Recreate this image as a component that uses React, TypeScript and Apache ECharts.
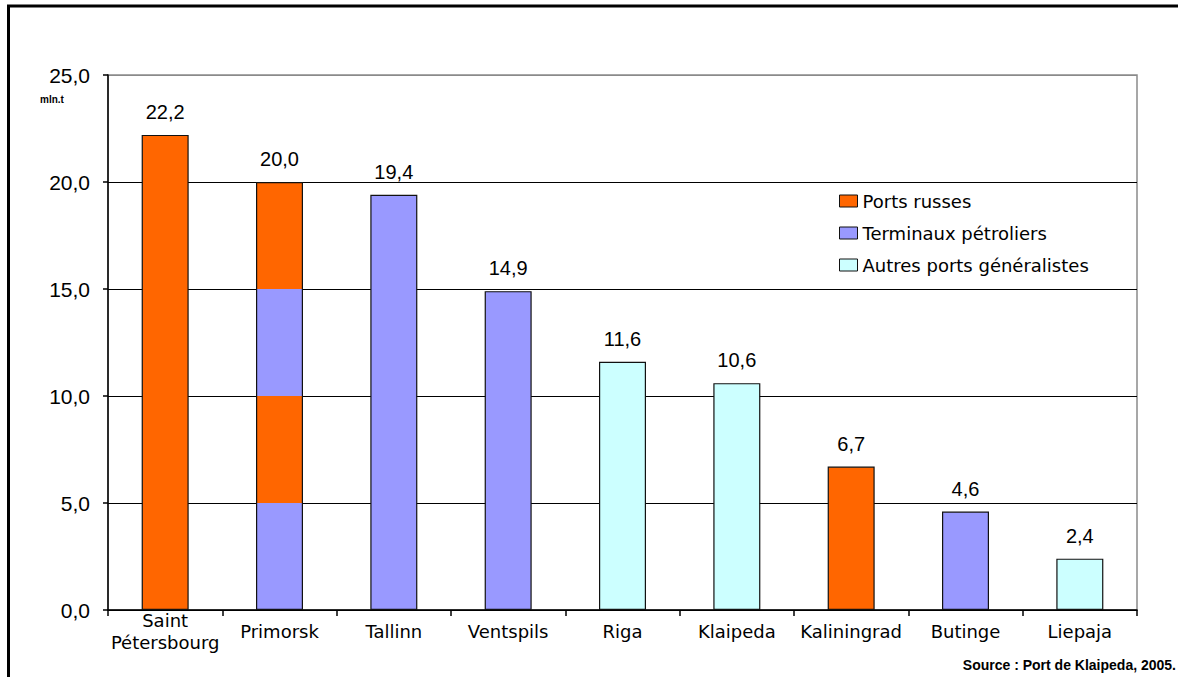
import React, { useEffect, useRef } from "react";
import * as echarts from "echarts";

const categories = ["Saint\nPétersbourg", "Primorsk", "Tallinn", "Ventspils", "Riga", "Klaipeda", "Kaliningrad", "Butinge", "Liepaja"];
const totals = [22.2, 20.0, 19.4, 14.9, 11.6, 10.6, 6.7, 4.6, 2.4];
const portTypes = ["russe", "mixte", "petrolier", "petrolier", "autre", "autre", "russe", "petrolier", "autre"];
// Primorsk striped bar: band tops, drawn from the highest down
const primorskBandTops = [20, 15, 10, 5];
const primorskBandTypes = ["russe", "petrolier", "russe", "petrolier"];
const legendTypes = ["russe", "petrolier", "autre"];
const legendNames: Record<string, string> = {
  russe: "Ports russes",
  petrolier: "Terminaux pétroliers",
  autre: "Autres ports généralistes",
};
const typeColors: Record<string, string> = {
  russe: "#FF6600",
  petrolier: "#9999FF",
  autre: "#CCFFFF",
};
const yMin = 0;
const yMax = 25;
const yStep = 5;
const unitLabel = "mln.t";
const sourceText = "Source : Port de Klaipeda, 2005.";

const fmt = (v: number) => v.toFixed(1).replace(".", ",");

export default function App() {
  const ref = useRef<HTMLDivElement>(null);
  useEffect(() => {
    if (!ref.current) return;
    const chart = echarts.init(ref.current, null, { renderer: "svg" });
    const labelStyle = {
      show: true,
      position: "top" as const,
      distance: 13,
      fontFamily: "Liberation Sans",
      fontSize: 20,
      color: "#000",
      formatter: (p: any) => fmt(p.value),
    };
    const common = { type: "bar" as const, barWidth: 47, barGap: "-100%" };
    const series: any[] = [];
    legendTypes.forEach((t) => {
      series.push({
        ...common,
        name: legendNames[t],
        data: totals.map((v, i) => (portTypes[i] === t ? v : null)),
        itemStyle: { color: typeColors[t], borderColor: "#111", borderWidth: 1.2 },
        label: labelStyle,
      });
    });
    primorskBandTops.forEach((top, k) => {
      series.push({
        ...common,
        name: "bande" + k,
        data: totals.map((_, i) => (portTypes[i] === "mixte" ? top : null)),
        itemStyle: { color: typeColors[primorskBandTypes[k]], borderWidth: 0 },
        silent: true,
      });
    });
    series.push({
      ...common,
      name: "contour",
      data: totals.map((v, i) => (portTypes[i] === "mixte" ? v : null)),
      itemStyle: { color: "rgba(0,0,0,0)", borderColor: "#111", borderWidth: 1.2 },
      label: labelStyle,
    });

    chart.setOption({
      animation: false,
      backgroundColor: "#fff",
      grid: {
        left: 108,
        top: 75,
        right: 41,
        bottom: 67,
        show: true,
        borderColor: "#8a8a8a",
        borderWidth: 1.5,
      },
      legend: {
        data: legendTypes.map((t) => legendNames[t]),
        orient: "vertical",
        left: 834,
        top: 187,
        itemWidth: 18,
        itemHeight: 12,
        itemGap: 14,
        icon: "rect",
        itemStyle: { borderColor: "#111", borderWidth: 1 },
        textStyle: { fontFamily: "DejaVu Sans", fontSize: 18, color: "#000", lineHeight: 18 },
        selectedMode: false,
      },
      xAxis: {
        type: "category",
        data: categories,
        axisLine: { lineStyle: { color: "#000", width: 1.5 } },
        axisTick: { show: true, length: 6, lineStyle: { color: "#000", width: 1.5 } },
        axisLabel: {
          fontFamily: "DejaVu Sans",
          fontSize: 18,
          color: "#000",
          lineHeight: 22,
          margin: 21,
          verticalAlign: "middle",
          interval: 0,
        },
      },
      yAxis: {
        type: "value",
        min: yMin,
        max: yMax,
        interval: yStep,
        axisLine: { show: true, lineStyle: { color: "#000", width: 1.5 } },
        axisTick: { show: true, length: 5, lineStyle: { color: "#000", width: 1.5 } },
        axisLabel: {
          fontFamily: "Liberation Sans",
          fontSize: 21,
          color: "#000",
          margin: 18,
          formatter: (v: number) => fmt(v),
        },
        splitLine: {
          show: true,
          lineStyle: { color: ["#000", "#000", "#000", "#000", "#000", "#8a8a8a"], width: 1 },
        },
      },
      series,
      graphic: [
        {
          type: "rect",
          shape: { x: 8.5, y: 6, width: 1200, height: 700 },
          style: { fill: "none", stroke: "#000", lineWidth: 3 },
          silent: true,
        },
        {
          type: "text",
          x: 40,
          y: 99,
          style: {
            text: unitLabel,
            fontFamily: "Liberation Sans",
            fontSize: 10,
            fontWeight: "bold",
            fill: "#000",
            verticalAlign: "middle",
          },
        },
        {
          type: "text",
          x: 1176,
          y: 665,
          style: {
            text: sourceText,
            fontFamily: "Liberation Sans",
            fontSize: 14,
            fontWeight: "bold",
            fill: "#000",
            align: "right",
            verticalAlign: "middle",
          },
        },
      ],
    });
    return () => chart.dispose();
  }, []);
  return <div ref={ref} style={{ position: "absolute", left: 0, top: 0, width: 1178, height: 677 }} />;
}
